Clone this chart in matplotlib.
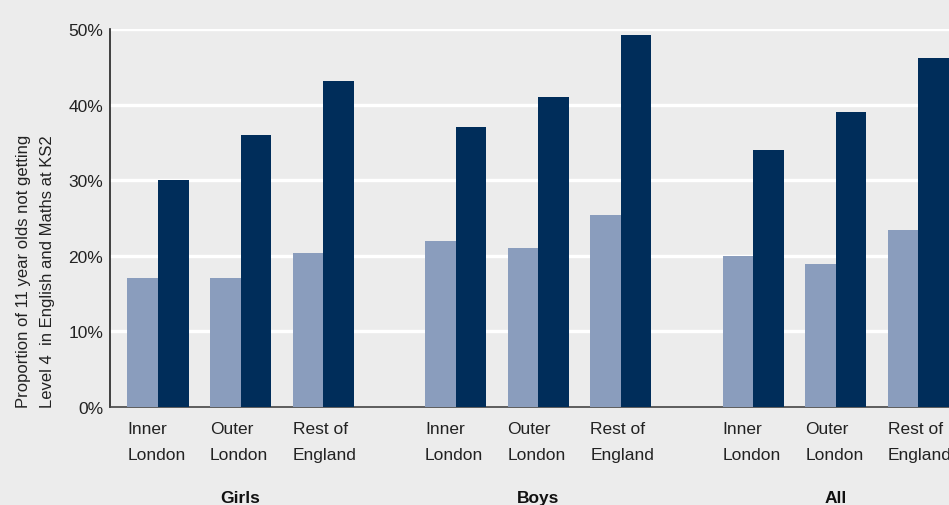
import matplotlib
matplotlib.use("Agg")
import matplotlib.pyplot as plt
from matplotlib.ticker import FuncFormatter
import numpy as np

plt.rcParams['font.family'] = ['Liberation Sans', 'DejaVu Sans']

groups = ["Girls", "Boys", "All"]
categories = ["Inner\nLondon", "Outer\nLondon", "Rest of\nEngland"]
# Two series per category (light = first series, dark = second series), in %
light_values = [17.0, 17.0, 20.4, 22.0, 21.0, 25.4, 20.0, 18.9, 23.4]
dark_values = [30.0, 36.0, 43.1, 37.0, 41.0, 49.2, 34.0, 39.0, 46.2]
y_ticks = [0, 10, 20, 30, 40, 50]

light_color = "#8a9dbd"
dark_color = "#002d5a"
bg = "#ececec"
text_color = "#222222"

W, H = 949, 506
fig = plt.figure(figsize=(W / 100, H / 100), dpi=100, facecolor=bg)
ax = fig.add_axes([110 / W, 1 - 408 / H, 1 - 110 / W, (408 - 30) / H])
ax.set_facecolor(bg)

group_step = 3.6
width = 0.37
pos = np.array([g * group_step + i for g in range(len(groups)) for i in range(len(categories))])

ax.bar(pos - width / 2, light_values, width, color=light_color, zorder=3)
ax.bar(pos + width / 2, dark_values, width, color=dark_color, zorder=3)

ax.set_ylim(0, 50)
ax.set_xlim(-0.58, pos[-1] + width)
ax.set_yticks(y_ticks)
ax.yaxis.set_major_formatter(FuncFormatter(lambda v, _: f"{int(v)}%"))
ax.tick_params(axis='y', length=0, labelsize=12.5, colors=text_color, pad=5)
ax.set_xticks([])
for v in y_ticks[1:]:
    ax.axhline(v, color="white", lw=2.4, zorder=1)

for s in ["top", "right"]:
    ax.spines[s].set_visible(False)
ax.spines["left"].set_color("#222222")
ax.spines["left"].set_linewidth(1.2)
ax.spines["bottom"].set_color("#444444")
ax.spines["bottom"].set_linewidth(1.2)

# category labels, left-aligned with each bar pair
for p, lab in zip(pos, categories * len(groups)):
    ax.text(p - width, -1.9, lab, ha="left", va="top", fontsize=12.5,
            color=text_color, linespacing=1.85, clip_on=False)

# group labels
for g, name in enumerate(groups):
    x = g * group_step + 1
    ax.text(x, -12.0, name, ha="center", va="center", fontsize=12.5,
            fontweight="bold", color="#111111", clip_on=False)

fig.text(36 / W, 1 - 408 / H,
         "Proportion of 11 year olds not getting\nLevel 4  in English and Maths at KS2",
         rotation=90, ha="center", va="bottom", fontsize=12, color=text_color,
         multialignment="left", linespacing=1.75)

fig.savefig("out.png", dpi=100, facecolor=bg)
